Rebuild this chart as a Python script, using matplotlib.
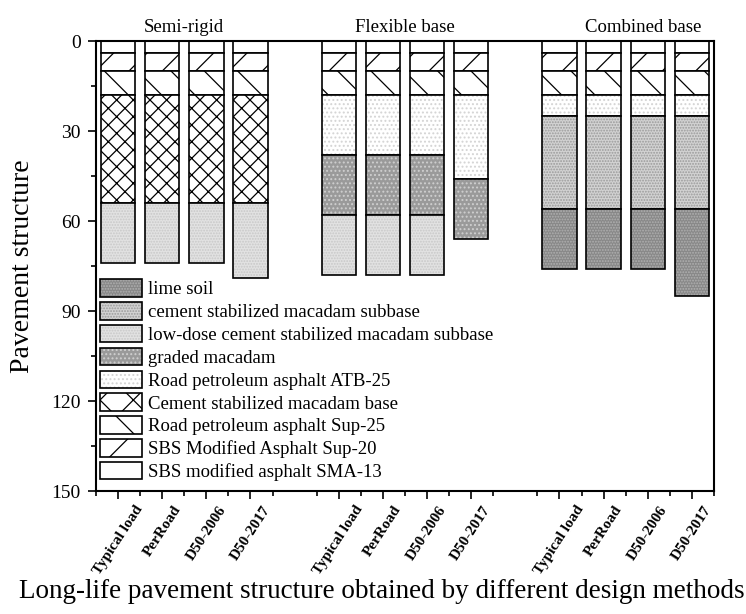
import numpy as np
import matplotlib
matplotlib.use("Agg")
import matplotlib.pyplot as plt
from matplotlib.patches import Patch
from matplotlib.ticker import MultipleLocator, FixedLocator

plt.rcParams['font.family'] = ['Liberation Serif', 'DejaVu Serif']
plt.rcParams['hatch.linewidth'] = 0.9

groups = ["Semi-rigid", "Flexible base", "Combined base"]
methods = ["Typical load", "PerRoad", "D50-2006", "D50-2017"]

# layer thickness per bar (4 bars per group), listed from the surface down
layer_names = [
    "SBS modified asphalt SMA-13",
    "SBS Modified Asphalt Sup-20",
    "Road petroleum asphalt Sup-25",
    "Cement stabilized macadam base",
    "Road petroleum asphalt ATB-25",
    "graded macadam",
    "low-dose cement stabilized macadam subbase",
    "cement stabilized macadam subbase",
    "lime soil",
]
sma13 = [4, 4, 4, 4, 4, 4, 4, 4, 4, 4, 4, 4]
sup20 = [6, 6, 6, 6, 6, 6, 6, 6, 6, 6, 6, 6]
sup25 = [8, 8, 8, 8, 8, 8, 8, 8, 8, 8, 8, 8]
csm_base = [36, 36, 36, 36, 0, 0, 0, 0, 0, 0, 0, 0]
atb25 = [0, 0, 0, 0, 20, 20, 20, 28, 7, 7, 7, 7]
graded = [0, 0, 0, 0, 20, 20, 20, 20, 0, 0, 0, 0]
lowdose = [20, 20, 20, 25, 20, 20, 20, 0, 0, 0, 0, 0]
csm_sub = [0, 0, 0, 0, 0, 0, 0, 0, 31, 31, 31, 31]
lime = [0, 0, 0, 0, 0, 0, 0, 0, 20, 20, 20, 29]
layers = [sma13, sup20, sup25, csm_base, atb25, graded, lowdose, csm_sub, lime]

# (face colour, hatch colour, hatch)
styles = [
    ("white", "black", None),
    ("white", "black", "/"),
    ("white", "black", "\\"),
    ("white", "black", "xx"),
    ("white", "#d4d4d4", "...."),
    ("#9a9a9a", "#cfcfcf", "...."),
    ("#e2e2e2", "#c8c8c8", "......"),
    ("#d2d2d2", "#9a9a9a", "......"),
    ("#888888", "#b0b0b0", "......"),
]

x = np.concatenate([np.arange(4) + 5 * g for g in range(3)])
width = 0.78

fig = plt.figure(figsize=(7.46, 6.14), dpi=100)
ax = fig.add_axes([0.1287, 0.2003, 0.8283, 0.7329])

bottom = np.zeros(len(x))
handles = []
for name, vals, (fc, hc, hatch) in zip(layer_names, layers, styles):
    vals = np.array(vals, dtype=float)
    m = vals > 0
    ax.bar(x[m], vals[m], width, bottom=bottom[m], color=fc, edgecolor=hc,
           hatch=hatch, linewidth=0)
    ax.bar(x[m], vals[m], width, bottom=bottom[m], fill=False,
           edgecolor="black", linewidth=1.2)
    bottom += vals
    lh = "x" if hatch == "xx" else hatch
    handles.append((Patch(facecolor=fc, edgecolor=hc, hatch=lh, linewidth=0),
                    Patch(fill=False, edgecolor="black", linewidth=1.2)))

ax.set_xlim(-0.5, 13.5)
ax.set_ylim(150, 0)
ax.yaxis.set_major_locator(MultipleLocator(30))
ax.yaxis.set_minor_locator(MultipleLocator(15))
ax.set_xticks(x)
ax.set_xticklabels(methods * 3, rotation=57, ha="center", va="top",
                   fontweight="bold", fontsize=11)
ax.xaxis.set_minor_locator(FixedLocator(np.arange(-0.5, 14, 1.0)))
ax.tick_params(axis="both", which="major", direction="out", length=6,
               width=1.2, top=False, right=False)
ax.tick_params(axis="both", which="minor", direction="out", length=3.5,
               width=1.2, top=False, right=False)
ax.tick_params(axis="y", labelsize=14, pad=5)
ax.tick_params(axis="x", pad=3)
for s in ax.spines.values():
    s.set_linewidth(1.5)

ax.set_ylabel("Pavement structure", fontsize=20, labelpad=12)
ax.set_xlabel("Long-life pavement structure obtained by different design methods",
              fontsize=19.5)
ax.xaxis.set_label_coords(0.463, -0.195)

for gname, gx in zip(groups, [1.5, 6.5, 11.9]):
    ax.text(gx, 1.03, gname, transform=ax.get_xaxis_transform(),
            ha="center", va="center", fontsize=13.5)

ax.legend(handles[::-1], layer_names[::-1], loc="lower left",
          bbox_to_anchor=(0.006, 0.022), frameon=False, fontsize=13.5,
          handlelength=2.25, handleheight=1.05, labelspacing=0.2,
          handletextpad=0.35, borderpad=0, borderaxespad=0)

fig.savefig("out.png", dpi=100)
